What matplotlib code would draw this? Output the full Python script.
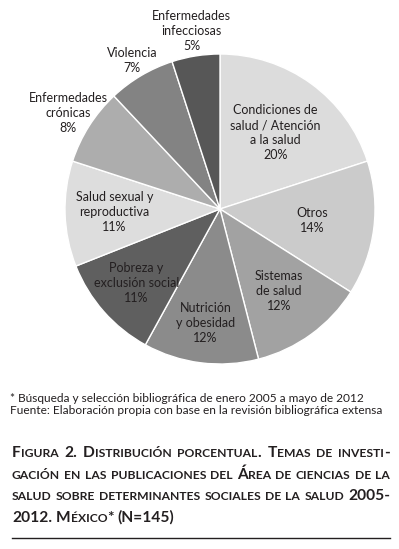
# coding: UTF-8
import numpy as np
import matplotlib
matplotlib.use('Agg')
import matplotlib.pyplot as plt

plt.rcParams['font.family'] = ['Lato', 'DejaVu Sans']

temas = ['Condiciones de\nsalud / Atención\na la salud', 'Otros', 'Sistemas\nde salud',
         'Nutrición\ny obesidad', 'Pobreza y\nexclusión social', 'Salud sexual y\nreproductiva',
         'Enfermedades\ncrónicas', 'Violencia', 'Enfermedades\ninfecciosas']
porcentajes = [20, 14, 12, 12, 11, 11, 8, 7, 5]
grises = ['#dcdcdc', '#cbcbcb', '#a2a2a2', '#8b8b8b', '#5f5f5f', '#dddddd', '#adadad', '#838383', '#575757']
dist_etiqueta = [0.61, 0.60, 0.65, 0.74, 0.72, 0.68, 1.16, 1.11, 1.16]

notas = ['* Búsqueda y selección bibliográfica de enero 2005 a mayo de 2012',
         'Fuente: Elaboración propia con base en la revisión bibliográfica extensa']
titulo = ['Figura 2. Distribución porcentual. Temas de investi-',
          'gación en las publicaciones del Área de ciencias de la',
          'salud sobre determinantes sociales de la salud 2005-',
          '2012. México* (N=145)']

W, H = 399, 549
negro = '#231f20'
fig = plt.figure(figsize=(W/100, H/100), dpi=100)

# pie
cx, cy, R = 220, 209, 155
half = 200
ax = fig.add_axes([(cx-half)/W, (H-cy-half)/H, 2*half/W, 2*half/H])
wedges, _ = ax.pie(porcentajes, colors=grises, startangle=90, counterclock=False, radius=1,
                   wedgeprops=dict(edgecolor='white', linewidth=1.0))
ax.set_xlim(-half/R, half/R)
ax.set_ylim(-half/R, half/R)
ax.axis('off')
for w, t, p, d in zip(wedges, temas, porcentajes, dist_etiqueta):
    ang = np.deg2rad((w.theta1 + w.theta2) / 2)
    ax.text(d*np.cos(ang), d*np.sin(ang), f'{t}\n{p}%', ha='center', va='center',
            fontsize=9.0, linespacing=1.3, color=negro)

# notas
for i, n in enumerate(notas):
    fig.text(10/W, 1 - (399 + 11*i)/H, n, va='center', fontsize=8.6, color=negro)

# titulo en versalitas, justificado
renderer = fig.canvas.get_renderer()
big, small = 11.2, 8.7

def segmentos(palabra):
    segs = []
    for ch in palabra:
        peq = ch.islower()
        if segs and segs[-1][1] == peq:
            segs[-1][0] += ch.upper()
        else:
            segs.append([ch.upper(), peq])
    return segs

def ancho(txt, size):
    t = fig.text(0, 0, txt, fontsize=size, fontweight='bold')
    wd = t.get_window_extent(renderer).width
    t.remove()
    return wd

x0, x1 = 12, 390
ys = [457, 479, 500, 522]
for k, linea in enumerate(titulo):
    palabras = linea.split(' ')
    info = []
    for p in palabras:
        segs = segmentos(p)
        ws = [ancho(s, small if peq else big) for s, peq in segs]
        info.append((segs, ws))
    total = sum(sum(ws) for _, ws in info)
    if k < len(titulo) - 1:
        gap = (x1 - x0 - total) / (len(palabras) - 1)
    else:
        gap = 4.0
    x = x0
    for segs, ws in info:
        for (s, peq), wd in zip(segs, ws):
            fig.text(x/W, 1 - ys[k]/H, s, fontsize=small if peq else big, fontweight='bold',
                     va='baseline', color=negro)
            x += wd
        x += gap

fig.add_artist(plt.Line2D([x0/W, x1/W], [1 - 538/H, 1 - 538/H], color=negro, lw=1.0,
                          transform=fig.transFigure))

fig.savefig('out.png', dpi=100)
